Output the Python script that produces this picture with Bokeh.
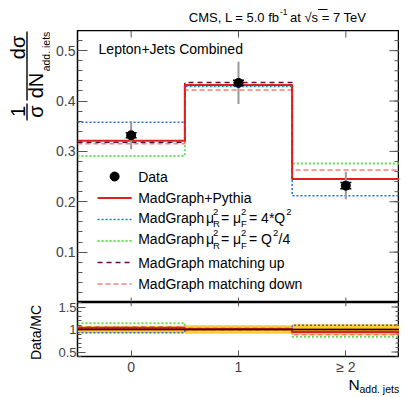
import numpy as np
from bokeh.plotting import figure
from bokeh.layouts import column, row
from bokeh.models import (Range1d, FixedTicker, Label, Span, BoxAnnotation)
from bokeh.embed import file_html
from bokeh.resources import INLINE

# ---------------- data ----------------
bins = [0, 1, 2]
bin_edges = [-0.5, 0.5, 1.5, 2.5]
x_tick_labels = ["0", "1", "\u2265 2"]

data = [0.332, 0.436, 0.232]
data_tot_err = [0.028, 0.042, 0.027]
data_stat_err = [0.005, 0.005, 0.006]

mg_pythia = [0.321, 0.432, 0.245]
mg_scale_up = [0.358, 0.429, 0.212]     # mu^2 = 4*Q^2
mg_scale_down = [0.291, 0.431, 0.276]   # mu^2 = Q^2/4
mg_match_up = [0.318, 0.437, 0.245]
mg_match_down = [0.315, 0.422, 0.263]

ratio_inner_band = [0.025, 0.025, 0.03]

y_ticks = [0.1, 0.2, 0.3, 0.4, 0.5]
ratio_ticks = [0.5, 1.0, 1.5]

FONT = "Liberation Sans"

# ---------------- page geometry (px) ----------------
W = 399
LEFT_W = 50           # strip holding the rotated y titles
F_L, F_R = 77, 398
F1_T, F1_B = 30, 302
F2_T, F2_B = 302, 359
P2_H = 75             # ratio canvas: frame + x tick labels
XLAB_H = 397 - (F2_T + P2_H)
Y1 = (0.0, 0.54)
Y2 = (0.4, 1.6)
UX = 3.0 / (F_R - F_L)                       # data units per px (x)
UY1 = (Y1[1] - Y1[0]) / (F1_B - F1_T)        # per px, main
UY2 = (Y2[1] - Y2[0]) / (F2_B - F2_T)        # per px, ratio


def dx(px):
    return -0.5 + (px - F_L) * UX


def dy1(py):
    return Y1[1] - (py - F1_T) * UY1


def lab(fig, x, y, text, size, angle=0.0, align="left", baseline="middle", color="black"):
    fig.add_layout(Label(x=x, y=y, text=text, text_font=FONT, text_font_size=f"{size}px",
                         angle=angle, text_align=align, text_baseline=baseline, text_color=color))


def blank(w, h):
    """plain canvas whose data units are its own pixels (origin top-left)"""
    f = figure(width=w, height=h, x_range=Range1d(0, w), y_range=Range1d(h, 0),
               output_backend="svg", toolbar_location=None,
               x_axis_location=None, y_axis_location=None,
               min_border=0, min_border_left=0, min_border_right=0,
               min_border_top=0, min_border_bottom=0)
    f.grid.visible = False
    f.outline_line_color = None
    return f


def bar(fig, x0, x1, y0, y1):
    fig.add_layout(BoxAnnotation(left=x0, right=x1, top=y0, bottom=y1,
                                 fill_color="black", fill_alpha=1.0, line_color=None))


C_RED = "#dd2020"
C_BLUE = "#2a6fd0"
C_GREEN = "#66dd55"
C_MAROON = "#6b0a3a"
C_PINK = "#ff7b7b"

styles = [
    (mg_scale_up, C_BLUE, "2 2", 1.5),
    (mg_scale_down, C_GREEN, "2 2", 2.0),
    (mg_match_down, C_PINK, "5 3", 1.5),
    (mg_match_up, C_MAROON, "5 4", 1.5),
    (mg_pythia, C_RED, "solid", 2.0),
]


def step_y(v):
    return list(v) + [v[-1]]


TICK_C = "#555555"
A = np.pi / 2


def mirror_ticks(fig, yt, ymin, ylen_major, ylen_minor, uy, xlen_top, xlen_bottom, yr):
    """inner tick marks on the right, top and bottom edges (ROOT style)"""
    xe = 2.5
    fig.segment([xe - ylen_major * UX] * len(yt), yt, [xe] * len(yt), yt,
                line_color=TICK_C, line_width=1)
    fig.segment([xe - ylen_minor * UX] * len(ymin), ymin, [xe] * len(ymin), ymin,
                line_color=TICK_C, line_width=1)
    if xlen_top:
        fig.segment(bins, [yr[1] - xlen_top * uy] * 3, bins, [yr[1]] * 3, line_color=TICK_C, line_width=1)
    if xlen_bottom:
        fig.segment(bins, [yr[0]] * 3, bins, [yr[0] + xlen_bottom * uy] * 3, line_color=TICK_C, line_width=1)


# ---------------- title strip ----------------
pt = blank(W, F1_T)
lab(pt, 279, 17, "CMS, L = 5.0 fb", 13, align="right")
lab(pt, 279.5, 11, "-1", 8.5)
lab(pt, 289.5, 17, "at \u221As = 7 TeV", 13)
bar(pt, 317.5, 327, 8.5, 9.5)

# ---------------- left strip: rotated y titles of both panels ----------------
pl = blank(LEFT_W, (F1_B - F1_T) + P2_H)
o = F1_T
lab(pl, 17, 47 - o, "d\u03c3", 20, angle=A, align="center")
bar(pl, 25.8, 27.2, 31 - o, 100 - o)
lab(pl, 35, 85 - o, "dN", 20, angle=A, align="center")
lab(pl, 45, 51 - o, "add. jets", 10.5, angle=A, align="center")
lab(pl, 17, 111 - o, "1", 20, angle=A, align="center")
bar(pl, 25.8, 27.2, 103 - o, 120 - o)
lab(pl, 35, 111 - o, "\u03c3", 20, angle=A, align="center")
lab(pl, 35, 332 - o, "Data/MC", 14, angle=A, align="center")

# ---------------- main panel ----------------
p1 = figure(width=W - LEFT_W, height=F1_B - F1_T, x_range=Range1d(-0.5, 2.5), y_range=Range1d(*Y1),
            output_backend="svg", toolbar_location=None, x_axis_location=None,
            min_border_left=F_L - LEFT_W, min_border_right=W - 1 - F_R, min_border_top=0, min_border_bottom=0)
p1.grid.visible = False
p1.outline_line_color = "black"
p1.outline_line_width = 1.5

minor1 = [round(v, 3) for v in np.arange(0.02, 0.54, 0.02)]
ya = p1.yaxis[0]
ya.ticker = FixedTicker(ticks=y_ticks, minor_ticks=minor1)
ya.major_label_overrides = {t: f"{t:g}" for t in y_ticks}
ya.major_tick_in = 10
ya.major_tick_out = 0
ya.minor_tick_in = 5
ya.minor_tick_out = 0
ya.major_label_standoff = 2
ya.major_label_text_font = FONT
ya.major_label_text_font_size = "14px"
ya.axis_line_color = None
ya.major_tick_line_color = TICK_C
ya.minor_tick_line_color = TICK_C

mirror_ticks(p1, y_ticks, minor1, 10, 5, UY1, 7, 5, Y1)

for vals, col, dash, w in styles:
    p1.step(bin_edges, step_y(vals), mode="after", line_color=col, line_dash=dash, line_width=w)

# data points with total (grey) and statistical (black) uncertainties
lo = [d - e for d, e in zip(data, data_tot_err)]
hi = [d + e for d, e in zip(data, data_tot_err)]
p1.segment(bins, lo, bins, hi, line_color="#999999", line_width=2)
slo = [d - e for d, e in zip(data, data_stat_err)]
shi = [d + e for d, e in zip(data, data_stat_err)]
p1.segment(bins, slo, bins, shi, line_color="black", line_width=1.5)
p1.scatter(bins, shi, marker="dash", size=11, line_color="black", line_width=1.5)
p1.scatter(bins, slo, marker="dash", size=11, line_color="black", line_width=1.5)
p1.scatter(bins, data, size=9, color="black")

lab(p1, dx(98), dy1(48), "Lepton+Jets Combined", 14)

# legend
rows = [176, 197.5, 219, 240.5, 262, 283.5]
LX0, LX1, TX = 97, 131, 137.5
p1.scatter([dx(114)], [dy1(rows[0])], size=9, color="black")
for (vals, col, dash, w), r in zip([styles[4], styles[0], styles[1], styles[3], styles[2]], rows[1:]):
    p1.segment([dx(LX0)], [dy1(r)], [dx(LX1)], [dy1(r)], line_color=col, line_dash=dash, line_width=w)


def l1(px, py, text, size):
    lab(p1, dx(px), dy1(py), text, size)


l1(TX, rows[0], "Data", 14)
l1(TX, rows[1], "MadGraph+Pythia", 14)
for i, tail in ((2, "4*Q"), (3, "Q")):
    c = rows[i] - 2
    l1(TX, c, "MadGraph", 14)
    l1(205, c, "\u03bc", 14)
    l1(212, c - 6, "2", 9.5)
    l1(212, c + 6, "R", 9.5)
    l1(220, c, "= \u03bc", 14)
    l1(240, c - 6, "2", 9.5)
    l1(240, c + 6, "F", 9.5)
    l1(248, c, "= " + tail, 14)
l1(285, rows[2] - 8, "2", 9.5)
l1(272, rows[3] - 8, "2", 9.5)
l1(277.5, rows[3] - 2, "/4", 14)
l1(TX, rows[4], "MadGraph matching up", 14)
l1(TX, rows[5], "MadGraph matching down", 14)

# ---------------- ratio panel ----------------
p2 = figure(width=W - LEFT_W, height=P2_H, x_range=p1.x_range, y_range=Range1d(*Y2),
            output_backend="svg", toolbar_location=None,
            min_border_left=F_L - LEFT_W, min_border_right=W - 1 - F_R, min_border_top=0,
            min_border_bottom=P2_H - (F2_B - F2_T))
p2.grid.visible = False
p2.outline_line_color = "black"
p2.outline_line_width = 1.5

rel = [e / d for e, d in zip(data_tot_err, data)]
p2.quad(left=bin_edges[:-1], right=bin_edges[1:], bottom=[1 - r for r in rel], top=[1 + r for r in rel],
        fill_color="#ffcc33", line_color=None)
p2.quad(left=bin_edges[:-1], right=bin_edges[1:], bottom=[1 - r for r in ratio_inner_band],
        top=[1 + r for r in ratio_inner_band], fill_color="#ffa033", line_color=None)
p2.add_layout(Span(location=1.0, dimension="width", line_color="black", line_width=1.5))
for vals, col, dash, w in styles:
    ratio = [d / m for d, m in zip(data, vals)]
    p2.step(bin_edges, step_y(ratio), mode="after", line_color=col, line_dash=dash, line_width=w)

xa = p2.xaxis[0]
xa.ticker = FixedTicker(ticks=bins, minor_ticks=[])
xa.major_label_overrides = {b_: t for b_, t in zip(bins, x_tick_labels)}
xa.major_tick_in = 6
xa.major_tick_out = 0
xa.major_label_standoff = 2
xa.major_label_text_font = FONT
xa.major_label_text_font_size = "14px"
xa.axis_line_color = None
xa.major_tick_line_color = TICK_C

minor2 = [round(v, 2) for v in np.arange(0.4, 1.61, 0.1)]
ya2 = p2.yaxis[0]
ya2.ticker = FixedTicker(ticks=ratio_ticks, minor_ticks=minor2)
ya2.major_label_overrides = {t: f"{t:g}" for t in ratio_ticks}
ya2.major_tick_in = 8
ya2.major_tick_out = 0
ya2.minor_tick_in = 4
ya2.minor_tick_out = 0
ya2.major_label_standoff = 1
ya2.major_label_text_font = FONT
ya2.major_label_text_font_size = "13px"
ya2.axis_line_color = None
ya2.major_tick_line_color = TICK_C
ya2.minor_tick_line_color = TICK_C

mirror_ticks(p2, ratio_ticks, minor2, 8, 4, UY2, 4, 0, Y2)

# ---------------- x title strip ----------------
pxl = blank(W, XLAB_H)
o2 = F2_T + P2_H
lab(pxl, 348, 384 - o2, "N", 15.5)
lab(pxl, 359, 388 - o2, "add. jets", 10.5)

layout = column(pt, row(pl, column(p1, p2)), pxl)
open("out.html", "w").write(file_html(layout, INLINE))
